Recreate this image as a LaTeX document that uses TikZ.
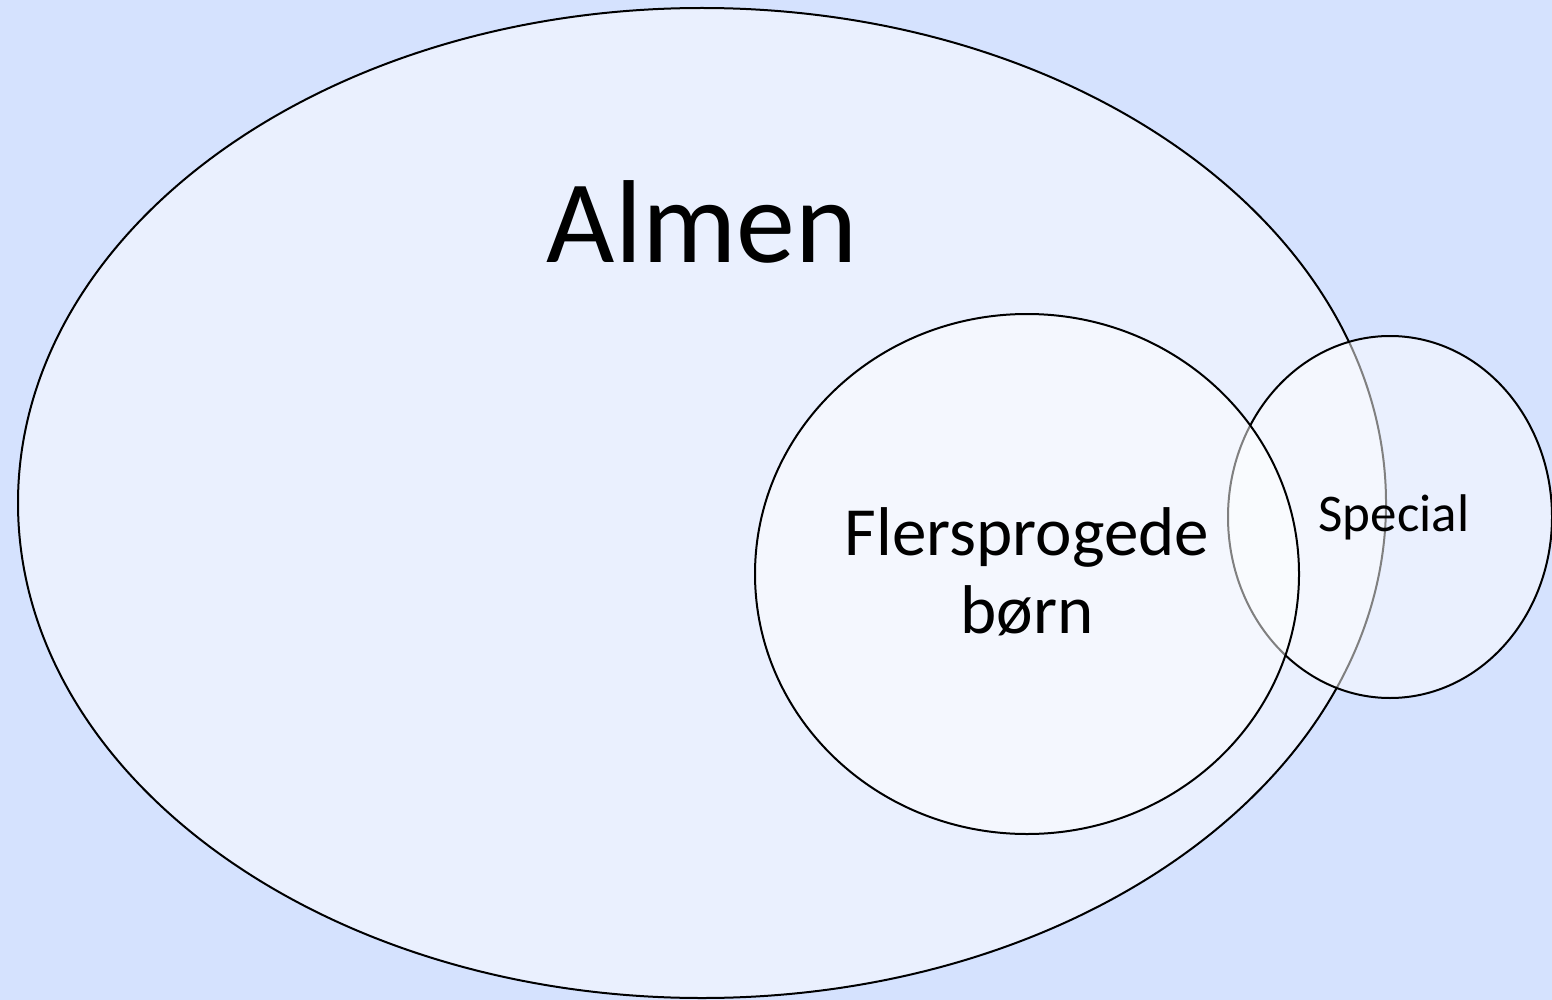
\documentclass[tikz,border=0pt]{standalone}
\usepackage{fontspec}
\setmainfont{Carlito}
\begin{document}
\begin{tikzpicture}[x=1pt,y=-1pt,
  setshape/.style={draw=black,line width=2pt,fill=white,fill opacity=0.5,draw opacity=1},
  lbl/.style={align=center,text=black,inner sep=0pt}]
\fill[fill={rgb,255:red,213;green,226;blue,254}] (0,0) rectangle (1552,1000);
\useasboundingbox (0,0) rectangle (1552,1000);
% sets, drawn back to front
\path[setshape] (702,503) ellipse [x radius=684, y radius=495];
\path[setshape] (1390,517) ellipse [x radius=162, y radius=181];
\path[setshape] (1027,574) ellipse [x radius=272, y radius=260];
% labels
\node[lbl,anchor=base,font=\fontsize{118}{130}\selectfont] (almen) at (702,262) {Almen};
\node[lbl,font=\fontsize{69}{78}\selectfont] (fler) at (1027,572) {Flersprogede\\børn};
\node[lbl,anchor=base,font=\fontsize{53}{60}\selectfont] (special) at (1394,531) {Special};
\end{tikzpicture}
\end{document}
